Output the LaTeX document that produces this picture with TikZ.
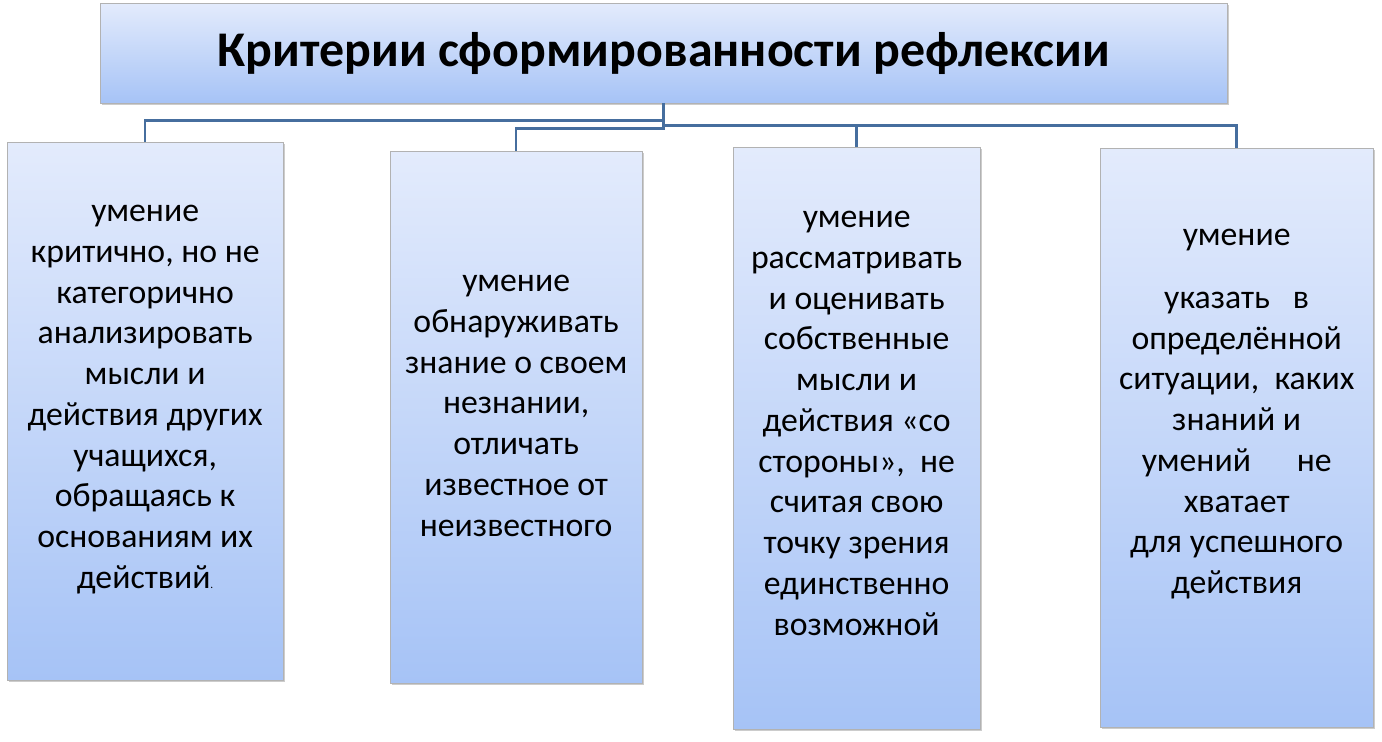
\documentclass[tikz,border=0pt]{standalone}
\usepackage{fontspec}
\setmainfont{Carlito}
\usetikzlibrary{positioning,calc,shadows}
\definecolor{boxtop}{HTML}{E3EBFC}
\definecolor{boxbot}{HTML}{A6C3F6}
\definecolor{linkblue}{HTML}{466E9E}
\tikzset{
    critbox/.style={rectangle, draw=gray!60, top color=boxtop, bottom color=boxbot,
        drop shadow={shadow xshift=3pt, shadow yshift=-3pt, opacity=0.4},
        anchor=north west, inner sep=0pt},
    crittext/.style={anchor=north, inner sep=0pt, align=center,
        font=\fontsize{48}{58}\selectfont},
    link/.style={draw=linkblue, line width=3.5pt}
}

\begin{document}
\begin{tikzpicture}[x=0.05cm, y=-0.05cm]
\useasboundingbox (0, 0) rectangle (1382, 742);
\path (100, 3) node[critbox, minimum width=1127*0.05cm, minimum height=100*0.05cm,
    font=\fontsize{71}{80}\selectfont\bfseries] (title) {Критерии сформированности рефлексии};

\path (7, 142) node[critbox, minimum width=276*0.05cm, minimum height=538*0.05cm] (c-1) {};
\path (390, 151) node[critbox, minimum width=252*0.05cm, minimum height=532*0.05cm] (c-2) {};
\path (733, 147) node[critbox, minimum width=247*0.05cm, minimum height=582*0.05cm] (c-3) {};
\path (1100, 148) node[critbox, minimum width=273*0.05cm, minimum height=579*0.05cm] (c-4) {};

\node[crittext] (t-1) at ($(c-1.north)+(0, 63)$)
    {умение\\критично, но не\\категорично\\анализировать\\мысли и\\действия других\\учащихся,\\обращаясь к\\основаниям их\\действий{\fontsize{16}{16}\selectfont.}};
\node[crittext] (t-2) at ($(c-2.north)+(0, 124)$)
    {умение\\обнаруживать\\знание о своем\\незнании,\\отличать\\известное от\\неизвестного};
\node[crittext] (t-3) at ($(c-3.north)+(0, 64)$)
    {умение\\рассматривать\\и оценивать\\собственные\\мысли и\\действия «со\\стороны»,\ \ не\\считая свою\\точку зрения\\единственно\\возможной};
\node[crittext] (t-4) at ($(c-4.north)+(0, 81)$)
    {умение\\[1.1cm]указать\ \ \ в\\определённой\\ситуации,\ \ каких\\знаний и\\умений\ \ \ \ \ \ не\\хватает\\для успешного\\действия};

% connectors
\coordinate (hub) at ($(title.south)+(0, 22)$);
\draw[link] (title.south) -- (hub);
\draw[link] (hub) -- ++(0, -5) -| (c-1.north);
\draw[link] (hub) -- ++(0, 3) -| (c-2.north);
\draw[link] (hub) -| (c-4.north);
\draw[link] (c-3.north) -- (c-3.north |- hub);
\end{tikzpicture}
\end{document}
